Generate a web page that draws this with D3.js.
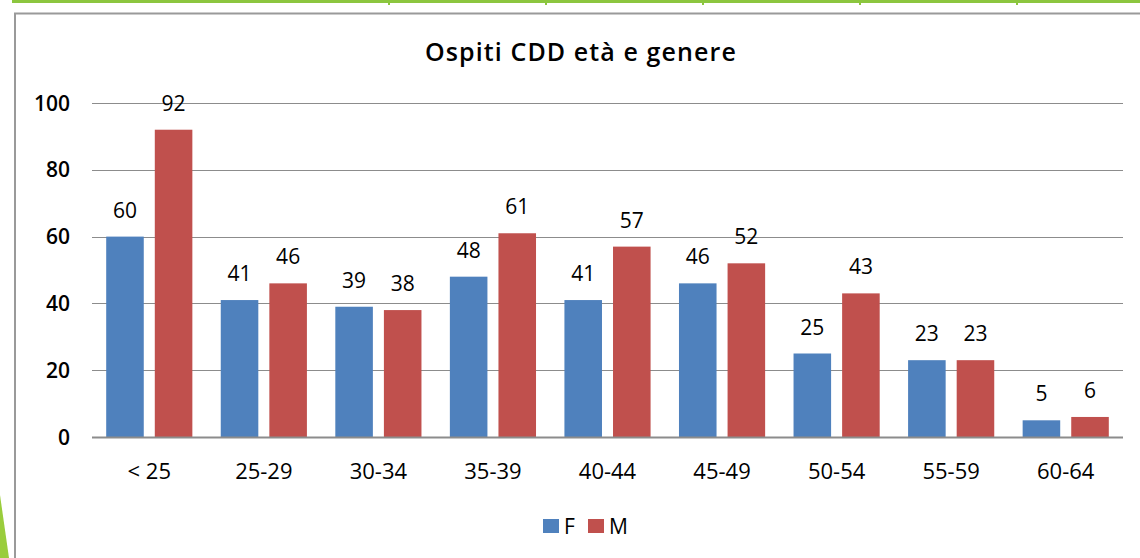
<!DOCTYPE html>
<html>
<head>
<meta charset="utf-8">
<script src="https://cdn.jsdelivr.net/npm/d3@7"></script>
<style>
  body { margin: 0; background: #fff; }
  svg { display: block; }
  text { font-family: "Open Sans", "Noto Sans", sans-serif; fill: #000; }
</style>
</head>
<body>
<div id="chart"></div>
<script>
// data
var categories = ["< 25", "25-29", "30-34", "35-39", "40-44", "45-49", "50-54", "55-59", "60-64"];
var seriesNames = ["F", "M"];
var valuesF = [60, 41, 39, 48, 41, 46, 25, 23, 5];
var valuesM = [92, 46, 38, 61, 57, 52, 43, 23, 6];
var yTicks = [0, 20, 40, 60, 80, 100];
var colors = {F: "#4f81bd", M: "#c0504d"};

var W = 1140, H = 558;

var svg = d3.select("#chart").append("svg")
    .attr("width", W)
    .attr("height", H);

// slide decorations (green rule on top, wedge bottom-left)
svg.append("rect")
    .attr("x", 12).attr("y", 0)
    .attr("width", W - 12).attr("height", 3)
    .attr("fill", "#8cc63f");
[388, 545, 702, 859, 1016].forEach(function(tx) {
    svg.append("rect")
        .attr("x", tx).attr("y", 2)
        .attr("width", 2).attr("height", 3)
        .attr("fill", "#8cc63f");
});
svg.append("path")
    .attr("d", "M0,495 L9,558 L0,558 Z")
    .attr("fill", "#9acd3c");

// chart frame
svg.append("path")
    .attr("d", "M15," + H + " L15,13.5 L" + W + ",13.5")
    .attr("fill", "none")
    .attr("stroke", "#9a9a9a")
    .attr("stroke-width", 2);

// title
svg.append("text")
    .attr("x", 581)
    .attr("y", 61)
    .attr("text-anchor", "middle")
    .style("font-size", "25px")
    .style("font-weight", "600")
    .style("letter-spacing", "1.1px")
    .text("Ospiti CDD età e genere");

// scales
var x0 = d3.scaleBand()
    .domain(categories)
    .range([92, 1123]);

var x1 = d3.scaleBand()
    .domain(seriesNames)
    .range([14.2, x0.bandwidth() - 14.2])
    .paddingInner(0.227);

var y = d3.scaleLinear()
    .domain([0, 100])
    .range([437, 103]);

// gridlines
svg.append("g")
  .selectAll("line")
  .data(yTicks.filter(function(d) { return d > 0; }))
  .enter().append("line")
    .attr("x1", 92)
    .attr("x2", 1123)
    .attr("y1", function(d) { return Math.round(y(d)) + 0.5; })
    .attr("y2", function(d) { return Math.round(y(d)) + 0.5; })
    .attr("stroke", "#8c8c8c")
    .attr("stroke-width", 1);

// y labels
svg.append("g")
  .selectAll("text")
  .data(yTicks)
  .enter().append("text")
    .attr("x", 70)
    .attr("y", function(d) { return y(d); })
    .attr("dy", "0.36em")
    .attr("text-anchor", "end")
    .style("font-size", "21px")
    .style("font-weight", "600")
    .text(function(d) { return d; });

// bars
var rows = categories.map(function(c, i) {
    return {cat: c, vals: [{key: "F", v: valuesF[i]}, {key: "M", v: valuesM[i]}]};
});

var groups = svg.append("g")
  .selectAll("g")
  .data(rows)
  .enter().append("g")
    .attr("transform", function(d) { return "translate(" + x0(d.cat) + ",0)"; });

groups.selectAll("rect")
    .data(function(d) { return d.vals; })
    .enter().append("rect")
    .attr("x", function(d) { return x1(d.key); })
    .attr("width", x1.bandwidth())
    .attr("y", function(d) { return y(d.v); })
    .attr("height", function(d) { return y(0) - y(d.v); })
    .attr("fill", function(d) { return colors[d.key]; });

groups.selectAll("text.val")
    .data(function(d) { return d.vals; })
    .enter().append("text")
    .attr("class", "val")
    .attr("x", function(d) { return x1(d.key) + x1.bandwidth() / 2; })
    .attr("y", function(d) { return y(d.v) - 19; })
    .attr("text-anchor", "middle")
    .style("font-size", "21px")
    .style("font-weight", "500")
    .text(function(d) { return d.v; });

// x axis line
svg.append("line")
    .attr("x1", 92).attr("x2", 1123)
    .attr("y1", 437.5).attr("y2", 437.5)
    .attr("stroke", "#8c8c8c")
    .attr("stroke-width", 2);

// category labels
svg.append("g")
  .selectAll("text")
  .data(categories)
  .enter().append("text")
    .attr("x", function(d) { return x0(d) + x0.bandwidth() / 2; })
    .attr("y", 479)
    .attr("text-anchor", "middle")
    .style("font-size", "22px")
    .style("font-weight", "500")
    .text(function(d) { return d; });

// legend
var legend = svg.append("g");
var legX = [543, 588];
seriesNames.forEach(function(s, i) {
    legend.append("rect")
        .attr("x", legX[i]).attr("y", 519)
        .attr("width", 16).attr("height", 14)
        .attr("fill", colors[s]);
    legend.append("text")
        .attr("x", legX[i] + 21)
        .attr("y", 534)
        .style("font-size", "21px")
        .text(s);
});
</script>
</body>
</html>
